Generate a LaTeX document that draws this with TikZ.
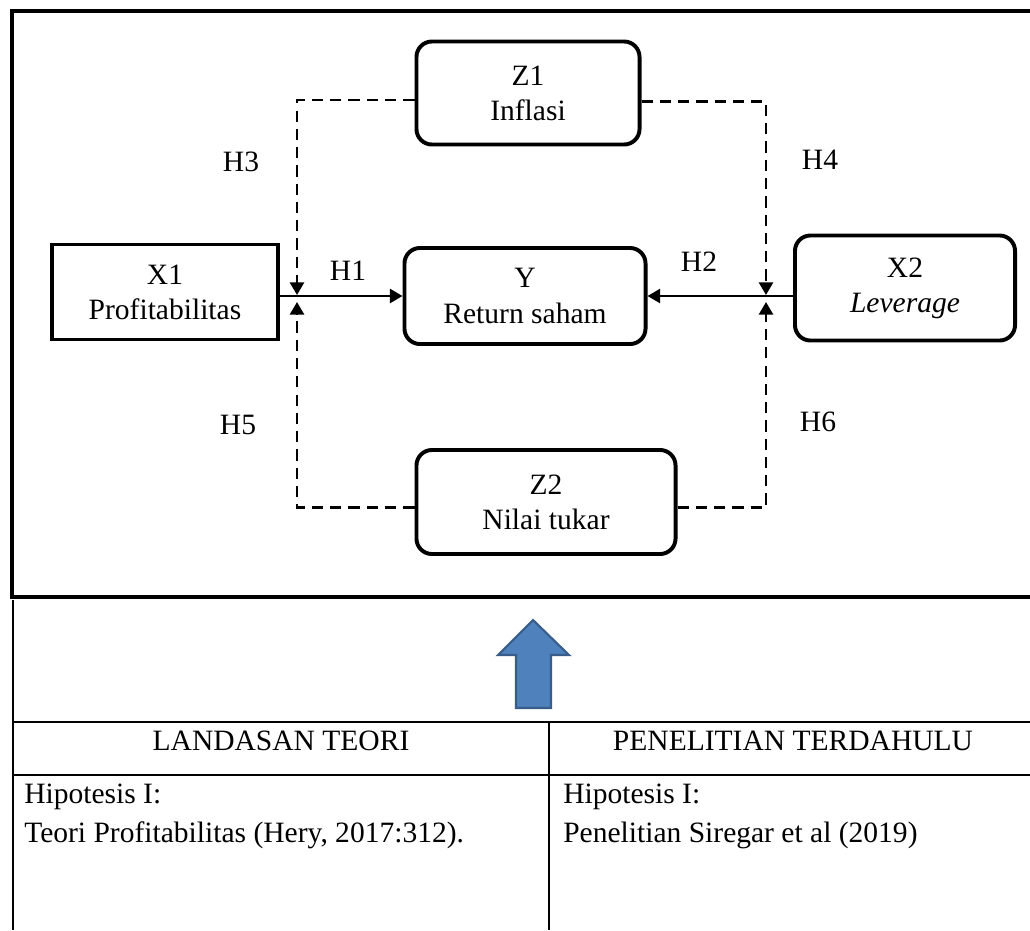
\documentclass[tikz,border=0pt]{standalone}
\usepackage{fontspec}
\setmainfont{Liberation Serif}
\usepackage{tikz}
\usetikzlibrary{positioning,arrows.meta}

\definecolor{arrowblue}{RGB}{79,129,189}
\definecolor{arrowedge}{RGB}{56,93,138}

\begin{document}
\begin{tikzpicture}[x=0.025cm, y=-0.025cm,
    font=\fontsize{21}{25}\selectfont,
    var/.style={draw, line width=2.8pt, align=center, inner sep=0pt},
    rvar/.style={var, rounded corners=11pt},
    link/.style={line width=1.8pt, -{Triangle[length=9pt,width=10pt]}},
    modlink/.style={link, dash pattern=on 8pt off 5pt}]
    \clip (0,0) rectangle (1030,930);

    % kerangka pemikiran
    \draw[line width=2.8pt] (12,11) rectangle (1045,597);

    \node[var, minimum width=5.65cm, minimum height=2.375cm] (X1) at (165,292) {X1\\Profitabilitas};
    \node[rvar, minimum width=6.025cm, minimum height=2.4cm] (Y) at (525,296) {Y\\Return saham};
    \node[rvar, minimum width=5.5cm, minimum height=2.625cm] (X2) at (905,288) {X2\\\textit{Leverage}};
    \node[rvar, minimum width=5.575cm, minimum height=2.575cm] (Z1) at (528,93) {Z1\\Inflasi};
    \node[rvar, minimum width=6.475cm, minimum height=2.6cm] (Z2) at (546,502) {Z2\\Nilai tukar};

    \coordinate (m3) at (297,295);
    \coordinate (m5) at (297,302);
    \coordinate (m4) at (766,295);
    \coordinate (m6) at (766,302);

    \draw[link] (X1.east |- Y.west) -- (Y.west);
    \draw[link] (X2.west |- Y.east) -- (Y.east);
    \draw[modlink] ([yshift=-5pt]Z1.west) -| (m3);
    \draw[modlink] ([yshift=-6pt]Z1.east) -| (m4);
    \draw[modlink] ([yshift=-4pt]Z2.west) -| (m5);
    \draw[modlink] ([yshift=-4pt]Z2.east) -| (m6);

    \node (H1) at (348,271) {H1};
    \node (H2) at (699,262) {H2};
    \node (H3) at (241,162) {H3};
    \node (H4) at (820,160) {H4};
    \node (H5) at (238,425) {H5};
    \node (H6) at (818,422) {H6};

    % panah ke atas
    \draw[fill=arrowblue, draw=arrowedge, line width=1.5pt, line join=miter]
        (533,620) -- (569,655) -- (551,655) -- (551,708) -- (516,708)
        -- (516,655) -- (498,655) -- cycle;

    % tabel
    \draw[line width=0.8pt] (13,600) -- (13,930);
    \draw[line width=1.6pt] (13,722) -- (1030,722);
    \draw[line width=1.6pt] (13,775) -- (1030,775);
    \draw[line width=0.9pt] (549,722) -- (549,930);

    \node (teori) at (281,741) {LANDASAN TEORI};
    \node (dahulu) at (793,741) {PENELITIAN TERDAHULU};
    \node[anchor=base west, inner sep=0pt] (hipa) at (24,803) {Hipotesis I:};
    \node[anchor=base west, inner sep=0pt] (sumbera) at (24,842) {Teori Profitabilitas (Hery, 2017:312).};
    \node[anchor=base west, inner sep=0pt] (hipb) at (563,803) {Hipotesis I:};
    \node[anchor=base west, inner sep=0pt] (sumberb) at (563,842) {Penelitian Siregar et al (2019)};
\end{tikzpicture}
\end{document}
